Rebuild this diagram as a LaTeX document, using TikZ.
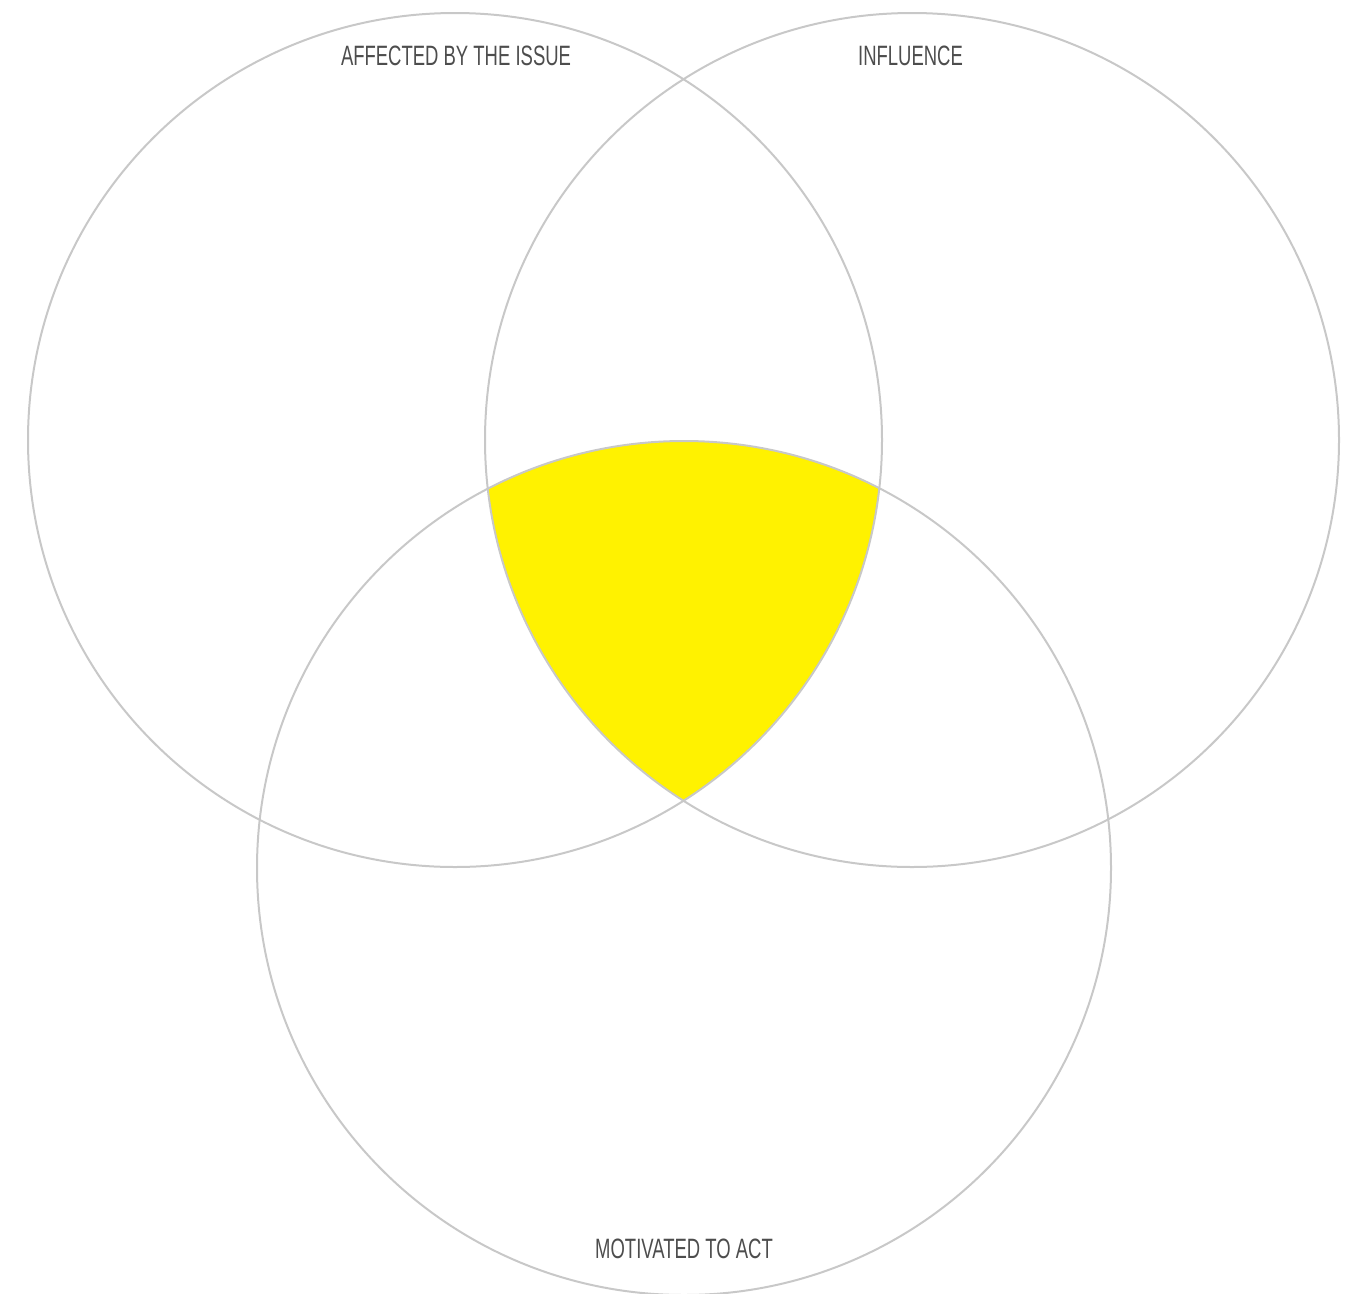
\documentclass[tikz,border=0pt]{standalone}
\usepackage{fontspec}
\setmainfont{Liberation Sans}[FakeStretch=0.66]
\definecolor{ringgray}{HTML}{C8C8C8}
\definecolor{venny}{HTML}{FFF200}
\definecolor{labelgray}{HTML}{4D4D4D}
\begin{document}
\begin{tikzpicture}[x=1pt,y=-1pt,
  ring/.style={draw=ringgray,line width=2pt},
  lbl/.style={text=labelgray,font=\fontsize{28}{30}\selectfont,inner sep=0pt,anchor=base}]
\useasboundingbox (0,0) rectangle (1351,1293);
\clip (0,0) rectangle (1351,1293);
\coordinate (ca) at (455,440);
\coordinate (cb) at (912,440);
\coordinate (cc) at (684,868);
\begin{scope}
  \clip (ca) circle (427);
  \clip (cb) circle (427);
  \fill[venny] (cc) circle (427);
\end{scope}
\draw[ring] (ca) circle (427);
\draw[ring] (cb) circle (427);
\draw[ring] (cc) circle (427);
\node[lbl] (la) at (456,65) {AFFECTED BY THE ISSUE};
\node[lbl] (lb) at (910.5,65) {INFLUENCE};
\node[lbl] (lc) at (684,1258) {MOTIVATED TO ACT};
\end{tikzpicture}
\end{document}
